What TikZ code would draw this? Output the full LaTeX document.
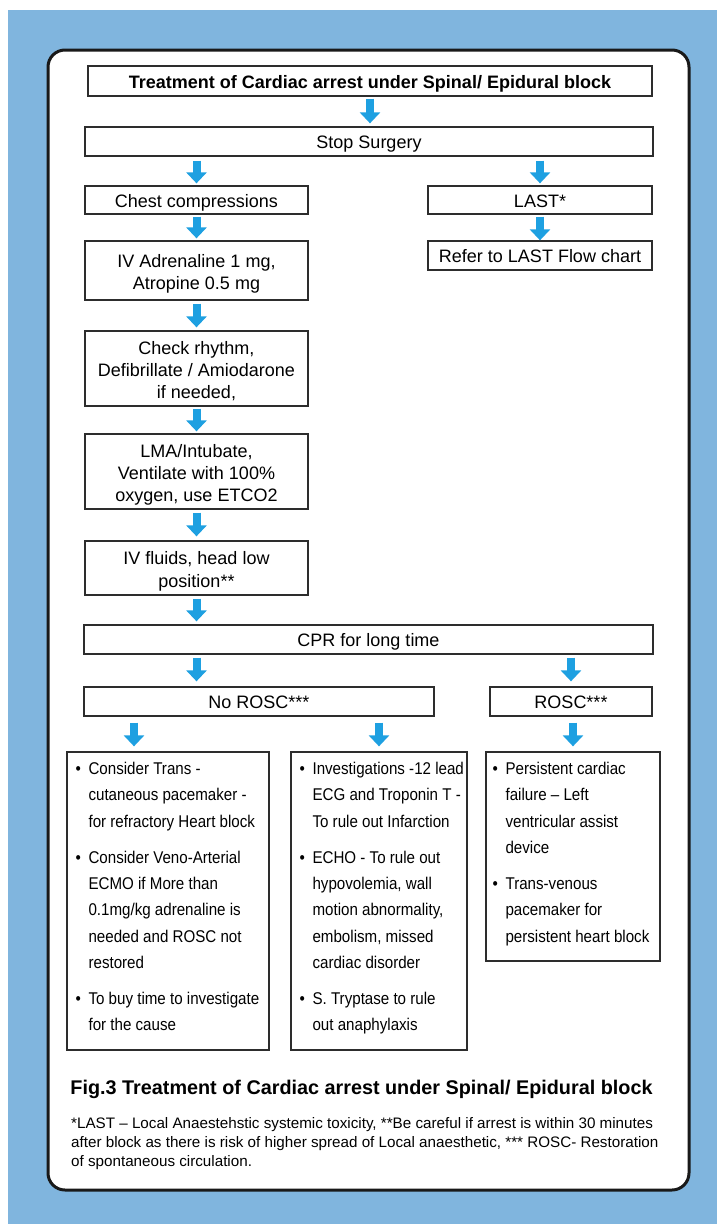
\documentclass[tikz,border=0pt]{standalone}
\usepackage{fontspec}
\setmainfont{Liberation Sans}
\newfontfamily\narrowfont{Liberation Sans}[FakeStretch=0.89,Ligatures=TeX]
\usetikzlibrary{arrows.meta,calc}
\definecolor{bgblue}{RGB}{128,181,222}
\definecolor{arrowblue}{RGB}{30,160,225}
\definecolor{boxline}{RGB}{45,45,45}
\newcommand\fst{\rule{0pt}{20pt}}
\newcommand\lst{\rule[-4pt]{0pt}{0pt}}
\tikzset{
  box/.style={draw=boxline, line width=1.3pt, fill=white, inner sep=0pt, align=center,
    font=\fontsize{18}{22.3}\selectfont},
  sbox/.style={box, execute at begin node={\rule{0pt}{18.5pt}},
    execute at end node={\rule[-4pt]{0pt}{0pt}}},
  emptybox/.style={draw=boxline, line width=1.3pt, fill=white, inner sep=0pt},
  blarrow/.style={draw=arrowblue, line width=8pt, -{Triangle[width=20pt,length=11pt]}},
  bltext/.style={inner sep=0pt, anchor=north west, font=\narrowfont\fontsize{17}{26.3}\selectfont},
}
\newcommand\bul{\makebox[13pt][l]{•}}
\begin{document}
\begin{tikzpicture}[x=1pt,y=-1pt]
\useasboundingbox (0,0) rectangle (717,1224);
\fill[white] (0,0) rectangle (717,1224);
\fill[bgblue] (8,10) rectangle (717,1224);
\draw[line width=3pt, draw=black!90, fill=white, rounded corners=17pt] (48,50) rectangle (689,1190);

% boxes
\node[sbox, minimum width=564pt, minimum height=30pt, font=\bfseries\fontsize{18}{22}\selectfont] (title) at (370,81) {Treatment of Cardiac arrest under Spinal/ Epidural block};
\node[sbox, minimum width=568pt, minimum height=29pt] (stop) at (369,141.5) {Stop Surgery};
\node[sbox, minimum width=223pt, minimum height=28pt] (chest) at (196.5,200) {Chest compressions};
\node[sbox, minimum width=224pt, minimum height=28pt] (last) at (540,200) {LAST*};
\node[sbox, minimum width=224pt, minimum height=29pt] (refer) at (540,255.5) {Refer to LAST Flow chart};
\node[box, minimum width=223pt, minimum height=59pt] (iv) at (196.5,270.5) {\fst IV Adrenaline 1 mg,\\Atropine 0.5 mg\lst};
\node[box, minimum width=223pt, minimum height=75pt] (check) at (196.5,368.5) {\fst Check rhythm,\\Defibrillate / Amiodarone\\if needed,\lst};
\node[box, minimum width=223pt, minimum height=75pt] (lma) at (196.5,471.5) {\fst LMA/Intubate,\\Ventilate with 100\%\\oxygen, use ETCO2\lst};
\node[box, minimum width=223pt, minimum height=54pt] (fluids) at (196.5,568) {\fst IV fluids, head low\\position**\lst};
\node[sbox, minimum width=569pt, minimum height=29pt] (cpr) at (368.5,639.5) {CPR for long time};
\node[sbox, minimum width=350pt, minimum height=29pt] (norosc) at (259,701.5) {No ROSC***};
\node[sbox, minimum width=162pt, minimum height=29pt] (rosc) at (571,701.5) {ROSC***};
\node[emptybox, minimum width=202pt, minimum height=298pt] (b1) at (168,901) {};
\node[emptybox, minimum width=176pt, minimum height=298pt] (b2) at (379,901) {};
\node[emptybox, minimum width=174pt, minimum height=209pt] (b3) at (573,856.5) {};

% bullet texts
\node[bltext] (t1) at ([xshift=9pt,yshift=-4.6pt]b1.north west) {\begin{tabular}{@{}l@{}l@{}}
\bul & Consider Trans -\\
 & cutaneous pacemaker -\\
 & for refractory Heart block\\[9.7pt]
\bul & Consider Veno-Arterial\\
 & ECMO if More than\\
 & 0.1mg/kg adrenaline is\\
 & needed and ROSC not\\
 & restored\\[9.7pt]
\bul & To buy time to investigate\\
 & for the cause
\end{tabular}};
\node[bltext] (t2) at ([xshift=9pt,yshift=-4.6pt]b2.north west) {\begin{tabular}{@{}l@{}l@{}}
\bul & Investigations -12 lead\\
 & ECG and Troponin T -\\
 & To rule out Infarction\\[9.7pt]
\bul & ECHO - To rule out\\
 & hypovolemia, wall\\
 & motion abnormality,\\
 & embolism, missed\\
 & cardiac disorder\\[9.7pt]
\bul & S. Tryptase to rule\\
 & out anaphylaxis
\end{tabular}};
\node[bltext] (t3) at ([xshift=7pt,yshift=-4.6pt]b3.north west) {\begin{tabular}{@{}l@{}l@{}}
\bul & Persistent cardiac\\
 & failure – Left\\
 & ventricular assist\\
 & device\\[9.7pt]
\bul & Trans-venous\\
 & pacemaker for\\
 & persistent heart block
\end{tabular}};

% arrows
\coordinate (c1) at (134,0);
\draw[blarrow] ([yshift=-2pt]title.south) -- ([yshift=3pt]stop.north -| title.south);
\draw[blarrow] ([yshift=-4pt]stop.south -| chest.north) -- ([yshift=2pt]chest.north);
\draw[blarrow] ([yshift=-4pt]stop.south -| last.north) -- ([yshift=2pt]last.north);
\draw[blarrow] ([yshift=-2pt]chest.south) -- ([yshift=2pt]iv.north);
\draw[blarrow] ([yshift=-2pt]last.south) -- ([yshift=0pt]refer.north);
\draw[blarrow] ([yshift=-3pt]iv.south) -- ([yshift=3pt]check.north);
\draw[blarrow] ([yshift=-2pt]check.south) -- ([yshift=2pt]lma.north);
\draw[blarrow] ([yshift=-3pt]lma.south) -- ([yshift=4pt]fluids.north);
\draw[blarrow] ([yshift=-3pt]fluids.south) -- ([yshift=3pt]cpr.north -| fluids.south);
\draw[blarrow] ([yshift=-3pt]cpr.south -| chest.south) -- ([yshift=5pt]norosc.north -| chest.south);
\draw[blarrow] ([yshift=-3pt]cpr.south -| rosc.north) -- ([yshift=5pt]rosc.north);
\draw[blarrow] ([yshift=-6pt]norosc.south -| c1) -- ([yshift=5pt]b1.north -| c1);
\draw[blarrow] ([yshift=-6pt]norosc.south -| b2.north) -- ([yshift=5pt]b2.north);
\draw[blarrow] ([yshift=-6pt]rosc.south -| b3.north) -- ([yshift=5pt]b3.north);

% caption
\node[inner sep=0pt, font=\bfseries\fontsize{19.8}{22}\selectfont] (cap) at (361.5,1089) {Fig.3 Treatment of Cardiac arrest under Spinal/ Epidural block};
\node[inner sep=0pt, anchor=north west, align=left, font=\fontsize{15.2}{19}\selectfont] (note) at (71,1117) {*LAST -- Local Anaestehstic systemic toxicity, **Be careful if arrest is within 30 minutes\\after block as there is risk of higher spread of Local anaesthetic, *** ROSC- Restoration\\of spontaneous circulation.};
\end{tikzpicture}
\end{document}
